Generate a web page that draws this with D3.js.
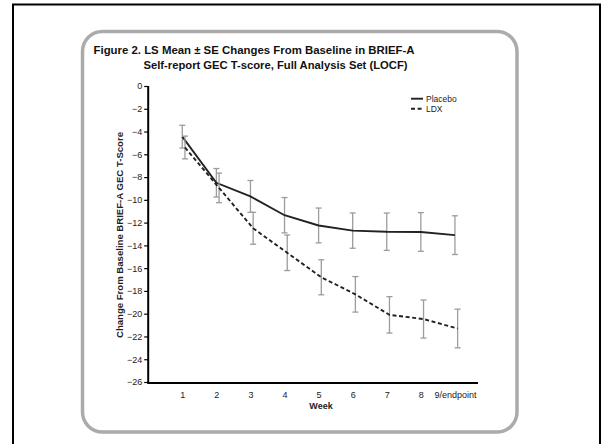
<!DOCTYPE html>
<html><head><meta charset="utf-8">
<script src="https://cdn.jsdelivr.net/npm/d3@7"></script>
<style>
html,body{margin:0;padding:0;background:#fff;}
svg{display:block;font-family:"Liberation Sans",Arial,Helvetica,sans-serif;}
</style></head>
<body>
<svg id="chart" width="602" height="444"></svg>
<script>
// ---- data ----
const weeks = [1, 2, 3, 4, 5, 6, 7, 8, 9];
const weekLabels = ["1", "2", "3", "4", "5", "6", "7", "8", "9/endpoint"];
const yTicks = [0, -2, -4, -6, -8, -10, -12, -14, -16, -18, -20, -22, -24, -26];
const placeboMean = [-4.45, -8.5, -9.7, -11.35, -12.25, -12.7, -12.8, -12.82, -13.1];
const placeboSE   = [1.0, 1.25, 1.4, 1.55, 1.53, 1.55, 1.64, 1.7, 1.7];
const ldxMean     = [-5.4, -8.95, -12.5, -14.65, -16.8, -18.3, -20.1, -20.47, -21.3];
const ldxSE       = [1.0, 1.3, 1.4, 1.56, 1.54, 1.56, 1.6, 1.67, 1.7];
const seriesNames = ["Placebo", "LDX"];

const svg = d3.select("#chart");

// outer black frame (open at bottom)
svg.append("path")
  .attr("d", "M13,450 L13,4.5 L600,4.5 L600,450")
  .attr("fill", "none").attr("stroke", "#000").attr("stroke-width", 2);

// rounded gray panel
svg.append("rect")
  .attr("x", 82.5).attr("y", 31.5).attr("width", 434.5).attr("height", 400.5)
  .attr("rx", 20).attr("ry", 20)
  .attr("fill", "#fff").attr("stroke", "#ababab").attr("stroke-width", 3.5);

// title
svg.append("text").attr("x", 93.5).attr("y", 54)
  .attr("font-size", 11).attr("font-weight", "bold").attr("fill", "#111")
  .attr("textLength", 321).attr("lengthAdjust", "spacingAndGlyphs")
  .text("Figure 2. LS Mean \u00B1 SE Changes From Baseline in BRIEF-A");
svg.append("text").attr("x", 143.5).attr("y", 69)
  .attr("font-size", 11).attr("font-weight", "bold").attr("fill", "#111")
  .attr("textLength", 264).attr("lengthAdjust", "spacingAndGlyphs")
  .text("Self-report GEC T-score, Full Analysis Set (LOCF)");

// scales
const x = d3.scaleLinear().domain([0, 9.677]).range([148.2, 478]);
const y = d3.scaleLinear().domain([-26, 0]).range([382, 86]);

// y axis
const yAxis = d3.axisLeft(y).tickValues(yTicks).tickSize(4).tickPadding(2)
  .tickFormat(d => d === 0 ? "0" : "\u2212" + Math.abs(d));
const gy = svg.append("g").attr("transform", "translate(148.2,0)").call(yAxis);
gy.select(".domain").attr("stroke", "#000").attr("stroke-width", 2)
  .attr("d", "M0,86V383");
gy.selectAll(".tick line").attr("stroke", "#000").attr("stroke-width", 1.2);
gy.selectAll(".tick text").attr("font-size", 9).attr("fill", "#222")
  .attr("font-family", "Liberation Sans, Arial, sans-serif");

// x axis
const xAxis = d3.axisBottom(x).tickValues(weeks).tickSize(0).tickPadding(9)
  .tickFormat((d, i) => weekLabels[i]);
const gx = svg.append("g").attr("transform", "translate(0,383)").call(xAxis);
gx.select(".domain").attr("stroke", "#000").attr("stroke-width", 2)
  .attr("d", "M147.2,0H478");
gx.selectAll(".tick text").attr("font-size", 9).attr("fill", "#222")
  .attr("font-family", "Liberation Sans, Arial, sans-serif");

// axis titles
svg.append("text").attr("x", 321).attr("y", 409).attr("text-anchor", "middle")
  .attr("font-size", 9).attr("font-weight", "bold").attr("fill", "#222").text("Week");
svg.append("text")
  .attr("transform", "translate(123,235) rotate(-90)")
  .attr("text-anchor", "middle")
  .attr("font-size", 9).attr("font-weight", "bold").attr("fill", "#222")
  .attr("textLength", 206).attr("lengthAdjust", "spacingAndGlyphs")
  .text("Change From Baseline BRIEF-A GEC T-Score");

// series
const series = [
  {name: seriesNames[0], mean: placeboMean, se: placeboSE, dx: 0, dash: null},
  {name: seriesNames[1], mean: ldxMean, se: ldxSE, dx: 2.7, dash: "4,2.6"}
];

const line = d3.line().x(d => d.px).y(d => y(d.m));

series.forEach(s => {
  const pts = weeks.map((w, i) => ({px: x(w) + s.dx, m: s.mean[i], se: s.se[i]}));
  const g = svg.append("g");
  // error bars
  pts.forEach(p => {
    const y1 = y(p.m + p.se), y2 = y(p.m - p.se);
    g.append("line").attr("x1", p.px).attr("x2", p.px).attr("y1", y1).attr("y2", y2)
      .attr("stroke", "#9c9c9c").attr("stroke-width", 1.3);
    [y1, y2].forEach(yy => g.append("line")
      .attr("x1", p.px - 3).attr("x2", p.px + 3).attr("y1", yy).attr("y2", yy)
      .attr("stroke", "#9c9c9c").attr("stroke-width", 1.3));
  });
  g.append("path").datum(pts).attr("d", line)
    .attr("fill", "none").attr("stroke", "#222").attr("stroke-width", 1.9)
    .attr("stroke-dasharray", s.dash);
});

// legend
const lg = svg.append("g");
series.forEach((s, i) => {
  const yy = 98.7 + i * 10;
  lg.append("line").attr("x1", 411).attr("x2", 423).attr("y1", yy).attr("y2", yy)
    .attr("stroke", "#222").attr("stroke-width", 1.9).attr("stroke-dasharray", s.dash);
  lg.append("text").attr("x", 426).attr("y", yy + 3).attr("font-size", 8.5)
    .attr("fill", "#222").text(s.name);
});
</script>
</body></html>
